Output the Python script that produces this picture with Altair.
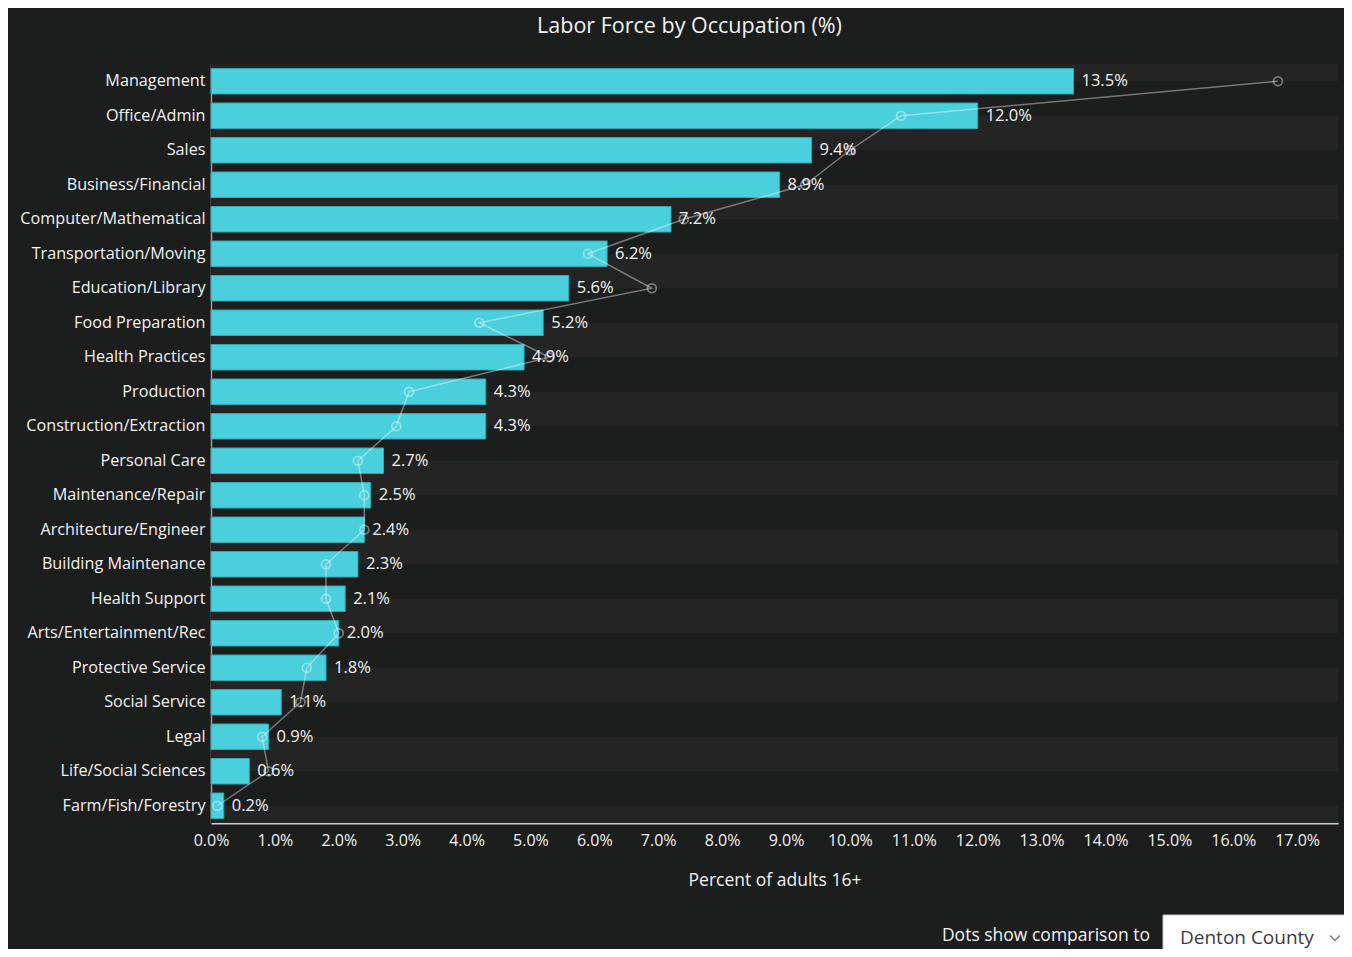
import altair as alt
import pandas as pd

categories = ["Management", "Office/Admin", "Sales", "Business/Financial",
              "Computer/Mathematical", "Transportation/Moving", "Education/Library",
              "Food Preparation", "Health Practices", "Production",
              "Construction/Extraction", "Personal Care", "Maintenance/Repair",
              "Architecture/Engineer", "Building Maintenance", "Health Support",
              "Arts/Entertainment/Rec", "Protective Service", "Social Service",
              "Legal", "Life/Social Sciences", "Farm/Fish/Forestry"]
values = [13.5, 12.0, 9.4, 8.9, 7.2, 6.2, 5.6, 5.2, 4.9, 4.3, 4.3, 2.7, 2.5,
          2.4, 2.3, 2.1, 2.0, 1.8, 1.1, 0.9, 0.6, 0.2]
comparison = [16.7, 10.8, 10.0, 9.3, 7.4, 5.9, 6.9, 4.2, 5.3, 3.1, 2.9, 2.3,
              2.4, 2.4, 1.8, 1.8, 2.0, 1.5, 1.4, 0.8, 0.9, 0.1]
tick_values = list(range(0, 18))

TITLE = "Labor Force by Occupation (%)"
X_TITLE = "Percent of adults 16+"
COMPARE_TEXT = "Dots show comparison to"
COMPARE_AREA = "Denton County"

W, H = 1127, 759
FONT = "Open Sans"
BG = "#1c1d1d"
BAND = "#242424"
BAR = "#4acfdc"
TXT = "#f2f2f2"
FS = 16.2

df = pd.DataFrame({"cat": categories, "val": values, "cmp": comparison,
                   "idx": list(range(len(categories)))})

n = len(categories)
band_rows = [(0.0, 0.5)] + [(i + 0.5, min(i + 1.5, n)) for i in range(1, n, 2)]
bands = pd.DataFrame({"b0": [b[0] for b in band_rows], "b1": [b[1] for b in band_rows]})

bg = alt.Chart(bands).mark_rect(color=BAND).encode(
    x=alt.value(0), x2=alt.value(W),
    y=alt.Y("b0:Q", scale=alt.Scale(domain=[0, n], reverse=True, nice=False), axis=None),
    y2="b1:Q",
)

yenc = alt.Y("cat:N", sort=categories,
             scale=alt.Scale(paddingInner=0.26, paddingOuter=0.13),
             axis=alt.Axis(title=None, ticks=False, labelPadding=6, labelFontSize=FS,
                           labelLimit=400, labelColor=TXT, labelFont=FONT,
                           domainColor="#9a9a9a", domainWidth=1.5, grid=False))
xenc = alt.X("val:Q", scale=alt.Scale(domain=[0, 17.64], nice=False),
             axis=alt.Axis(values=tick_values, labelExpr="format(datum.value, '.1f') + '%'",
                           ticks=False, labelPadding=9, labelFontSize=16, labelColor=TXT,
                           labelFont=FONT, labelFlush=False, domainColor="#d0d0d0",
                           domainWidth=2, grid=False, title=X_TITLE, titleFontSize=17.5,
                           titleFontWeight="normal", titleColor=TXT, titleFont=FONT,
                           titlePadding=23))

base = alt.Chart(df)
bars = base.mark_bar(color=BAR, stroke="#35a6b0", strokeWidth=1).encode(x=xenc, y=yenc)

line = base.mark_line(color="white", opacity=0.4, strokeWidth=1.5).encode(
    x="cmp:Q", y=alt.Y("cat:N", sort=categories), order="idx:Q")
dots = base.mark_point(shape="circle", filled=False, size=80, color="white",
                       opacity=0.4, strokeWidth=1.8).encode(
    x="cmp:Q", y=alt.Y("cat:N", sort=categories))

labels = base.transform_calculate(
    lab="format(datum.val, '.1f') + '%'"
).mark_text(align="left", baseline="middle", dx=8, fontSize=16.5, font=FONT,
            color=TXT).encode(x="val:Q", y=alt.Y("cat:N", sort=categories), text="lab:N")

main = alt.layer(bars, line, dots, labels)

cmp_text = alt.Chart(pd.DataFrame({"t": [COMPARE_TEXT]})).mark_text(
    align="right", baseline="middle", fontSize=17.5, font=FONT, color=TXT
).encode(x=alt.value(939), y=alt.value(872), text="t:N")

box = alt.Chart(pd.DataFrame({"t": [COMPARE_AREA]})).mark_rect(
    fill="white", stroke="#c8c8c8", strokeWidth=1
).encode(x=alt.value(952), x2=alt.value(1145), y=alt.value(851), y2=alt.value(900))

box_text = alt.Chart(pd.DataFrame({"t": [COMPARE_AREA]})).mark_text(
    align="left", baseline="middle", fontSize=19, font=FONT, color="#3c3c3c"
).encode(x=alt.value(969), y=alt.value(874), text="t:N")

chevron = alt.Chart(pd.DataFrame({"t": [COMPARE_AREA]})).mark_point(
    shape="M-1,-0.5L0,0.5L1,-0.5", filled=False, size=90, color="#555", strokeWidth=1.5
).encode(x=alt.value(1124), y=alt.value(874))

chart = alt.layer(bg, main, cmp_text, box, box_text, chevron).resolve_scale(
    y="independent"
).properties(
    width=W, height=H,
    autosize=alt.AutoSizeParams(type="none"),
    padding={"left": 203, "top": 56, "right": 6, "bottom": 126},
    background=BG,
    title=alt.TitleParams(TITLE, anchor="middle", dx=-85, offset=27, fontSize=21.5,
                          font=FONT, fontWeight="normal", color=TXT),
).configure_view(stroke=None)

chart.save("out.html", embed_options={"renderer": "svg", "actions": False})
